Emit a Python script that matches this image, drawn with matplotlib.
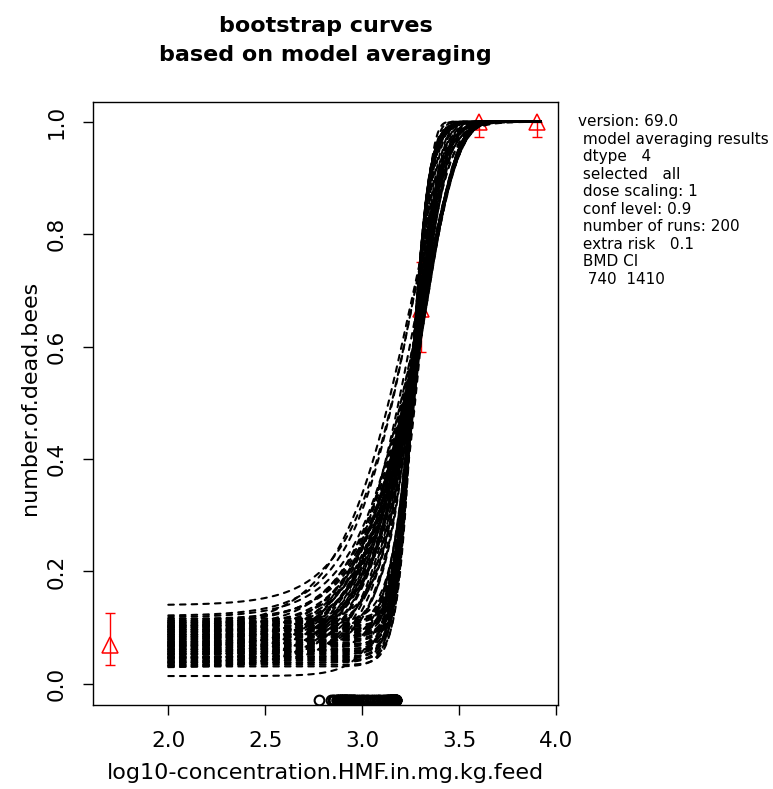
import numpy as np
import matplotlib
matplotlib.use('Agg')
import matplotlib.pyplot as plt

plt.rcParams['font.family'] = ['DejaVu Sans']
plt.rcParams['lines.scale_dashes'] = False

# ---------------- observed dose-response data (log10 dose) ----------------
obs_x = [1.7, 3.3, 3.6, 3.9]
obs_y = [0.07, 0.667, 1.0, 1.0]
obs_lo = [0.034, 0.59, 0.973, 0.973]
obs_hi = [0.126, 0.75, 1.0, 1.0]

# ---------------- bootstrap curves (model-averaged fits) ----------------
# steep log-logistic curves (left branch at the top)
A_bg = [0.031, 0.034, 0.038, 0.041, 0.043, 0.047, 0.049, 0.053, 0.055, 0.058, 0.061, 0.062,
        0.066, 0.068, 0.071, 0.073, 0.077, 0.079, 0.082, 0.085, 0.088, 0.089, 0.093, 0.095,
        0.098, 0.101, 0.104, 0.107, 0.109, 0.113, 0.116, 0.045, 0.059, 0.070, 0.084, 0.097]
A_k = [22, 24, 21, 23, 25, 22, 24, 23, 21, 25, 22, 24, 23, 22, 25, 21, 24, 23, 22, 24, 25, 21,
       23, 22, 24, 23, 25, 22, 21, 24, 23, 22, 25, 24, 21, 23]
A_m = [3.255, 3.258, 3.252, 3.256, 3.260, 3.254, 3.257, 3.255, 3.251, 3.259, 3.254, 3.258,
       3.256, 3.253, 3.260, 3.252, 3.257, 3.255, 3.254, 3.258, 3.259, 3.251, 3.256, 3.253,
       3.257, 3.255, 3.260, 3.254, 3.252, 3.258, 3.256, 3.253, 3.259, 3.257, 3.251, 3.255]
# shallow Weibull curves (right branch at the top)
R_bg = [0.029, 0.033, 0.036, 0.040, 0.044, 0.046, 0.050, 0.052, 0.056, 0.060, 0.063, 0.065,
        0.069, 0.072, 0.074, 0.078, 0.081, 0.083, 0.087, 0.090, 0.092, 0.096, 0.099, 0.102,
        0.106, 0.108, 0.112, 0.115, 0.118, 0.067]
R_k = [5.4, 5.8, 5.2, 6.0, 5.5, 5.7, 5.3, 6.1, 5.6, 5.4, 5.9, 5.2, 5.5, 6.2, 5.7, 5.3, 5.8,
       5.6, 6.0, 5.4, 5.5, 5.9, 5.2, 5.7, 6.1, 5.4, 5.6, 5.8, 5.3, 5.5]
R_m = [3.308, 3.314, 3.302, 3.318, 3.310, 3.312, 3.305, 3.320, 3.311, 3.307, 3.316, 3.303,
       3.309, 3.321, 3.313, 3.304, 3.315, 3.310, 3.317, 3.306, 3.309, 3.316, 3.301, 3.312,
       3.319, 3.307, 3.311, 3.314, 3.304, 3.308]
# intermediate Weibull curves
MW_bg = [0.032, 0.039, 0.047, 0.054, 0.061, 0.068, 0.075, 0.080, 0.086, 0.091, 0.094, 0.100,
         0.105, 0.110, 0.057, 0.073]
MW_k = [6.6, 7.2, 8.0, 9.0, 7.6, 10.0, 6.9, 8.5, 11.0, 7.4, 9.5, 6.7, 8.2, 10.5, 12.0, 13.0]
MW_m = [3.300, 3.298, 3.296, 3.294, 3.299, 3.290, 3.302, 3.295, 3.288, 3.300, 3.292, 3.303,
        3.296, 3.289, 3.287, 3.285]
# intermediate log-logistic curves
ML_bg = [0.037, 0.049, 0.064, 0.076, 0.088, 0.097, 0.103, 0.111]
ML_k = [15, 17, 14, 16, 18, 15, 17, 16]
ML_m = [3.272, 3.268, 3.276, 3.270, 3.266, 3.274, 3.269, 3.271]
# outlying Weibull curves
O_bg = [0.140, 0.121, 0.014, 0.100, 0.052]
O_k = [5.5, 5.5, 10.0, 4.8, 5.2]
O_m = [3.262, 3.258, 3.310, 3.245, 3.272]

extra_risk = 0.1
curve_x_range = (2.0, 3.92)

# info text on the right
info_lines = [
    "version: 69.0",
    " model averaging results",
    " dtype   4",
    " selected   all",
    " dose scaling: 1",
    " conf level: 0.9",
    " number of runs: 200",
    " extra risk   0.1",
    " BMD CI",
    "  740  1410",
]

title_lines = ["bootstrap curves", "based on model averaging"]
x_label = "log10-concentration.HMF.in.mg.kg.feed"
y_label = "number.of.dead.bees"
x_ticks = [2.0, 2.5, 3.0, 3.5, 4.0]
y_ticks = [0.0, 0.2, 0.4, 0.6, 0.8, 1.0]


def base_cdf(model, x, k, m):
    if model == 'LL':
        return 1.0 / (1.0 + np.exp(-k * (x - m)))
    return 1.0 - np.exp(-np.exp(k * (x - m)))


def bmd_of(model, k, m, r):
    if model == 'LL':
        return m + np.log(r / (1 - r)) / k
    return m + np.log(-np.log(1 - r)) / k


curves = []
for mdl, bgs, ks, ms in [('LL', A_bg, A_k, A_m), ('W', R_bg, R_k, R_m),
                         ('W', MW_bg, MW_k, MW_m), ('LL', ML_bg, ML_k, ML_m),
                         ('W', O_bg, O_k, O_m)]:
    for c, k, m in zip(bgs, ks, ms):
        curves.append((mdl, c, k, m))

W, H = 773, 789
fig = plt.figure(figsize=(W / 100, H / 100), dpi=100)
ax = fig.add_axes([93 / W, 1 - 705 / H, (558 - 93) / W, (705 - 101.5) / H])
ax.set_xlim(1.612, 4.008)
ax.set_ylim(-0.0375, 1.036)

# observed points with error bars (drawn first: curves lie on top)
yerr = [np.array(obs_y) - np.array(obs_lo), np.array(obs_hi) - np.array(obs_y)]
ax.errorbar(obs_x, obs_y, yerr=yerr, fmt='none', ecolor='red', elinewidth=1.0,
            capsize=3.5, capthick=1.0, zorder=1)
ax.plot(obs_x, obs_y, linestyle='none', marker='^', markersize=11,
        markerfacecolor='none', markeredgecolor='red', markeredgewidth=1.1, zorder=1)

# bootstrap curves
xs = np.linspace(curve_x_range[0], curve_x_range[1], 500)
for mdl, c, k, m in curves:
    ys = c + (1 - c) * base_cdf(mdl, xs, k, m)
    ax.plot(xs, ys, color='black', linewidth=1.5, linestyle=(0, (4.0, 4.4)),
            dash_capstyle='round', zorder=2)

# BMD estimates of bootstrap curves
bmds = [bmd_of(mdl, k, m, extra_risk) for mdl, c, k, m in curves]
ax.plot(bmds, [-0.028] * len(bmds), linestyle='none', marker='o', markersize=7,
        markerfacecolor='none', markeredgecolor='black', markeredgewidth=1.5, zorder=3)

for s in ax.spines.values():
    s.set_linewidth(1.0)
    s.set_color('black')

ax.set_xticks(x_ticks)
ax.set_xticklabels([f"{t:.1f}" for t in x_ticks])
ax.set_yticks(y_ticks)
ax.set_yticklabels([f"{t:.1f}" for t in y_ticks], rotation=90, va='center')
ax.tick_params(direction='out', length=7, width=1.0, labelsize=15.5, color='black')
ax.tick_params(axis='x', pad=12)
ax.tick_params(axis='y', pad=12)

fig.text(30 / W, 1 - 398 / H, y_label, rotation=90, ha='center', va='center', fontsize=16)
fig.text(325.5 / W, 1 - 773 / H, x_label, ha='center', va='center', fontsize=16)

fig.text(325.5 / W, 1 - 26 / H, title_lines[0], ha='center', va='center',
         fontsize=16, fontweight='bold')
fig.text(325.5 / W, 1 - 55 / H, title_lines[1], ha='center', va='center',
         fontsize=16, fontweight='bold')

for i, line in enumerate(info_lines):
    fig.text(578 / W, 1 - (121.7 + 17.5 * i) / H, line, ha='left', va='center',
             fontsize=11)

fig.savefig('out.png', dpi=100)
